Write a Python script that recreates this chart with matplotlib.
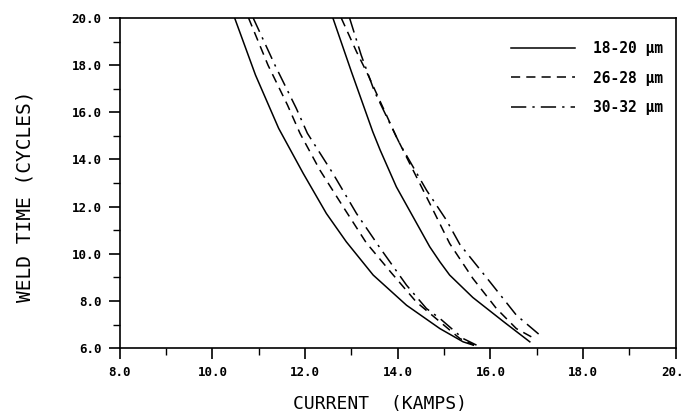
import numpy as np
from matplotlib import pyplot as plt
from matplotlib.ticker import MultipleLocator, FormatStrFormatter

# left group of curves
left_x_18 = [10.48, 10.93, 11.43, 11.96, 12.46, 12.89, 13.47, 14.19, 14.91, 15.41, 15.63]
left_y_18 = [20.0, 17.58, 15.32, 13.41, 11.71, 10.51, 9.10, 7.82, 6.83, 6.27, 6.13]
left_x_26 = [10.78, 11.20, 11.62, 11.89, 12.32, 12.82, 13.32, 13.86, 14.40, 14.91, 15.34, 15.65]
left_y_26 = [20.0, 18.00, 16.31, 15.11, 13.55, 12.00, 10.47, 9.20, 7.96, 7.12, 6.41, 6.13]
left_x_30 = [10.88, 11.35, 11.81, 12.05, 12.60, 13.11, 13.61, 14.19, 14.62, 14.91, 15.41, 15.70]
left_y_30 = [20.0, 18.00, 16.17, 15.11, 13.41, 11.71, 10.27, 8.67, 7.68, 7.26, 6.41, 6.13]

# right group of curves
right_x_18 = [12.60, 13.00, 13.46, 13.62, 13.97, 14.33, 14.69, 14.91, 15.12, 15.62, 16.30, 16.85]
right_y_18 = [20.0, 17.72, 15.18, 14.40, 12.84, 11.57, 10.30, 9.66, 9.10, 8.15, 7.10, 6.27]
right_x_26 = [12.78, 13.11, 13.36, 13.97, 14.33, 14.69, 15.12, 15.62, 16.13, 16.56, 16.94]
right_y_26 = [20.0, 18.57, 17.58, 14.96, 13.55, 12.14, 10.44, 8.96, 7.68, 6.83, 6.42]
right_x_30 = [12.96, 13.21, 13.50, 14.04, 14.62, 15.05, 15.34, 15.99, 16.56, 17.07]
right_y_30 = [20.0, 18.43, 16.87, 14.68, 12.70, 11.43, 10.40, 8.81, 7.40, 6.55]

labels = ['18-20 μm', '26-28 μm', '30-32 μm']

plt.rcParams['font.family'] = 'DejaVu Sans Mono'

dashed = (0, (6, 4))
dashdot = (0, (10, 4, 1.5, 4))

fig = plt.figure(figsize=(6.84, 4.17), dpi=100)
ax = fig.add_axes([0.175, 0.165, 0.813, 0.792])

ax.plot(left_x_18, left_y_18, color='black', lw=1.1, ls='-', label=labels[0])
ax.plot(left_x_26, left_y_26, color='black', lw=1.1, ls=dashed, label=labels[1])
ax.plot(left_x_30, left_y_30, color='black', lw=1.1, ls=dashdot, label=labels[2])
ax.plot(right_x_18, right_y_18, color='black', lw=1.1, ls='-')
ax.plot(right_x_26, right_y_26, color='black', lw=1.1, ls=dashed)
ax.plot(right_x_30, right_y_30, color='black', lw=1.1, ls=dashdot)

ax.set_xlim(8, 20)
ax.set_ylim(6, 20)
ax.xaxis.set_major_locator(MultipleLocator(2))
ax.xaxis.set_minor_locator(MultipleLocator(1))
ax.yaxis.set_major_locator(MultipleLocator(2))
ax.yaxis.set_minor_locator(MultipleLocator(1))
ax.xaxis.set_major_formatter(FormatStrFormatter('%.1f'))
ax.yaxis.set_major_formatter(FormatStrFormatter('%.1f'))
ax.tick_params(which='major', direction='out', length=8, width=1.2, labelsize=9, pad=5)
ax.tick_params(which='minor', direction='out', length=5, width=1.0)
for lab in ax.get_xticklabels() + ax.get_yticklabels():
    lab.set_fontweight('bold')
for s in ax.spines.values():
    s.set_linewidth(1.2)

ax.set_xlabel('CURRENT  (KAMPS)', fontsize=13)
ax.set_ylabel('WELD TIME (CYCLES)', fontsize=14)
ax.xaxis.set_label_coords(0.468, -0.142)
ax.yaxis.set_label_coords(-0.153, 0.46)

ax.legend(loc='upper right', bbox_to_anchor=(1.0, 0.97), frameon=False,
          handlelength=4.4, handletextpad=1.2, labelspacing=1.0,
          prop={'size': 10.5, 'weight': 'bold'})

fig.savefig('out.png', dpi=100)
